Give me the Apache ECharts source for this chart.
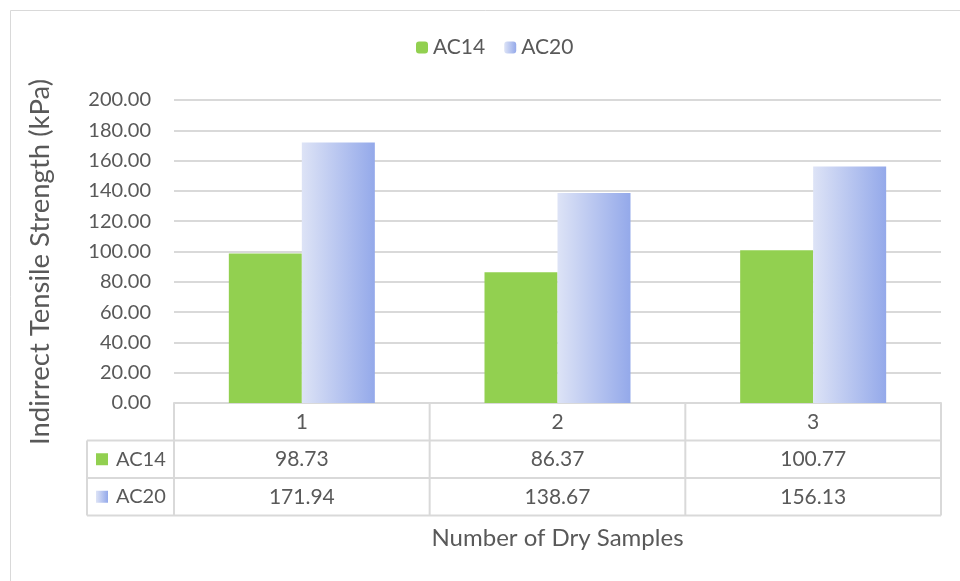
<!DOCTYPE html>
<html>
<head>
<meta charset="utf-8">
<script src="https://cdn.jsdelivr.net/npm/echarts@6/dist/echarts.min.js"></script>
<style>
  html, body { margin: 0; padding: 0; background: #ffffff; }
  #main { width: 960px; height: 581px; }
</style>
</head>
<body>
<div id="main"></div>
<script>
// Indirect tensile strength of dry samples, AC14 vs AC20
const categories = ['1', '2', '3'];
const seriesNames = ['AC14', 'AC20'];
const ac14 = [98.73, 86.37, 100.77];
const ac20 = [171.94, 138.67, 156.13];
const yMin = 0, yMax = 200, yStep = 20;
const yTitle = 'Indirrect Tensile Strength (kPa)';
const xTitle = 'Number of Dry Samples';

const font = 'Lato, "Noto Sans", sans-serif';
const textColor = '#595959';
const lineColor = '#D9D9D9';
const green = '#92D050';
const blueFill = () => new echarts.graphic.LinearGradient(0, 0, 1, 0, [
  { offset: 0, color: '#DDE3F6' },
  { offset: 1, color: '#94A9EA' }
]);

const W = 960, H = 581;
const gridLeft = 174, gridRight = 19, gridTop = 100, gridBottom = 178;

const chart = echarts.init(document.getElementById('main'), null, { renderer: 'canvas' });

chart.setOption({
  animation: false,
  backgroundColor: '#ffffff',
  grid: { left: gridLeft, right: gridRight, top: gridTop, bottom: gridBottom },
  legend: {
    data: seriesNames,
    left: 411, top: 32,
    itemWidth: 12, itemHeight: 12, itemGap: 19,
    textStyle: { fontSize: 21, color: textColor, fontFamily: font }
  },
  xAxis: {
    type: 'category',
    data: categories,
    axisLine: { lineStyle: { color: lineColor, width: 2 } },
    axisTick: { show: false },
    axisLabel: { margin: 9, fontSize: 21, color: textColor, fontFamily: font },
    name: xTitle,
    nameLocation: 'middle',
    nameGap: 123,
    nameTextStyle: { fontSize: 24, color: textColor, fontFamily: font }
  },
  yAxis: {
    type: 'value',
    min: yMin, max: yMax, interval: yStep,
    axisLine: { show: false },
    axisTick: { show: false },
    axisLabel: {
      margin: 23, fontSize: 20, color: textColor, fontFamily: font,
      formatter: v => v.toFixed(2)
    },
    splitLine: { lineStyle: { color: lineColor, width: 2 } }
  },
  series: [
    { name: seriesNames[0], type: 'bar', data: ac14, barWidth: 73, barGap: '0%',
      itemStyle: { color: green } },
    { name: seriesNames[1], type: 'bar', data: ac20, barWidth: 73, barGap: '0%',
      itemStyle: { color: blueFill() } }
  ]
});

// Data table under the plot, built from the same arrays
const plotL = gridLeft, plotR = W - gridRight, baseY = H - gridBottom;
const band = (plotR - plotL) / categories.length;
const rowH = 37.5;
const tableL = 87;
const rows = [
  { name: seriesNames[0], values: ac14, swatch: green },
  { name: seriesNames[1], values: ac20, swatch: blueFill() }
];

const g = [];
const line = (x1, y1, x2, y2) => g.push({
  type: 'line', silent: true,
  shape: { x1, y1, x2, y2 },
  style: { stroke: lineColor, lineWidth: 2 }
});

const tableBottom = baseY + rowH * (rows.length + 1);
// vertical rules
for (let i = 0; i <= categories.length; i++) {
  const x = plotL + band * i;
  line(x, baseY, x, tableBottom);
}
line(tableL, baseY + rowH, tableL, tableBottom);
// horizontal rules
for (let r = 1; r <= rows.length + 1; r++) {
  const y = baseY + rowH * r;
  line(tableL, y, plotR, y);
}
// row labels and values
rows.forEach((row, r) => {
  const cy = baseY + rowH * (r + 1.5);
  g.push({
    type: 'rect', silent: true,
    shape: { x: 96, y: cy - 6, width: 12, height: 12 },
    style: { fill: row.swatch }
  });
  g.push({
    type: 'text', silent: true, x: 116, y: cy,
    style: { text: row.name, fontSize: 20, fill: textColor, fontFamily: font,
             align: 'left', verticalAlign: 'middle' }
  });
  row.values.forEach((v, i) => {
    const cx = chart.convertToPixel({ xAxisIndex: 0 }, categories[i]);
    g.push({
      type: 'text', silent: true, x: cx, y: cy,
      style: { text: v.toFixed(2), fontSize: 21, fill: textColor, fontFamily: font,
               align: 'center', verticalAlign: 'middle' }
    });
  });
});
// rotated y-axis title
g.push({
  type: 'text', silent: true, x: 40, y: 262, rotation: Math.PI / 2,
  style: { text: yTitle, fontSize: 27.5, fill: textColor, fontFamily: font,
           align: 'center', verticalAlign: 'middle' }
});
// chart frame
g.push({
  type: 'rect', silent: true,
  shape: { x: 10.5, y: 10.5, width: 1000, height: 1000 },
  style: { fill: null, stroke: lineColor, lineWidth: 1 }
});

chart.setOption({ graphic: g });
</script>
</body>
</html>
